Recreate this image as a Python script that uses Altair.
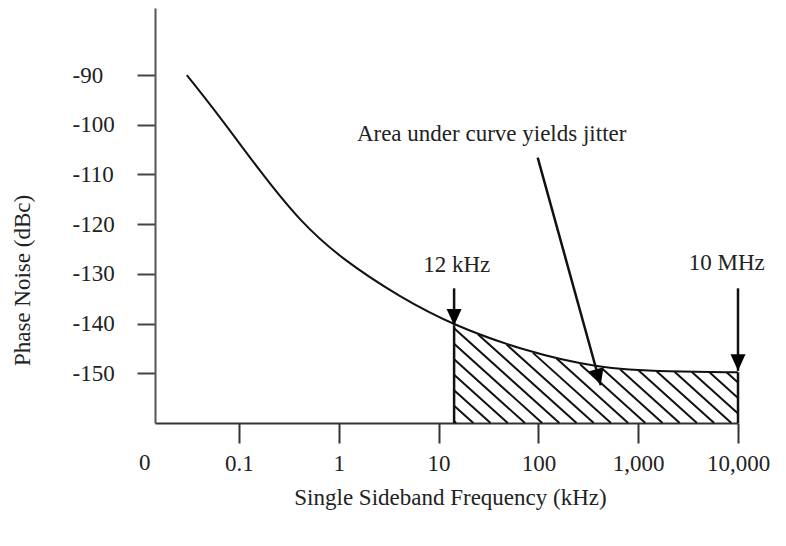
import math
import altair as alt
import pandas as pd

# ---------------- data ----------------
freq_khz = [0.03, 0.065, 0.16, 0.41, 1.07, 4.1, 14.3, 70, 387, 2080, 10000]
noise_dbc = [-90, -98.5, -109.2, -119.5, -127.0, -134.7, -140.4, -145.4, -149.0, -149.7, -149.8]

band_start_khz = 14.3      # "12 kHz" marker
band_end_khz = 10000       # "10 MHz" marker
band_floor_dbc = -160

x_ticks = [0.1, 1, 10, 100, 1000, 10000]
y_ticks = [-150, -140, -130, -120, -110, -100, -90]

note_text = ["Area under curve yields jitter", "12 kHz", "10 MHz", "0"]
note_x = [34, 15.2, 7710, 0.01135]
note_y = [-101.8, -128.3, -127.9, -168.1]

arrow_x_from = [14.3, 10000, 98.4]
arrow_y_from = [-132.9, -132.9, -106.6]
arrow_x_to = [14.3, 10000, 421]
arrow_y_to = [-140.4, -149.5, -152.4]

# ---------------- scales / layout ----------------
X_DOMAIN = [0.0144, 10000]
Y_DOMAIN = [-160, -76.5]
W, H = 583, 415
FONT = "Liberation Serif"
FS = 23
INK = "#111111"

LX0, LX1 = math.log10(X_DOMAIN[0]), math.log10(X_DOMAIN[1])


def xpix(f):
    return (math.log10(f) - LX0) / (LX1 - LX0) * W


def ypix(v):
    return (Y_DOMAIN[1] - v) / (Y_DOMAIN[1] - Y_DOMAIN[0]) * H


def xinv(p):
    return 10 ** (LX0 + p / W * (LX1 - LX0))


def yinv(p):
    return Y_DOMAIN[1] - p / H * (Y_DOMAIN[1] - Y_DOMAIN[0])


# ---------------- hatching derived from the curve ----------------
HATCH_SLOPE = 0.9
HATCH_STEP = 17.2
HATCH_PHASE = -41.8

curve_px = [(xpix(f), ypix(v)) for f, v in zip(freq_khz, noise_dbc)
            if band_start_khz <= f <= band_end_khz]


def top(px):
    for (x0, y0), (x1, y1) in zip(curve_px[:-1], curve_px[1:]):
        if x0 <= px <= x1:
            return y0 + (y1 - y0) * (px - x0) / (x1 - x0)
    return curve_px[-1][1] if px > curve_px[-1][0] else curve_px[0][1]


xL, xR, yB = xpix(band_start_khz), xpix(band_end_khz), ypix(band_floor_dbc)
dc = HATCH_SLOPE * HATCH_STEP
hx, hx2, hy, hy2 = [], [], [], []
for k in range(-80, 80):
    c = HATCH_PHASE + k * dc
    yl = HATCH_SLOPE * xL + c
    if yl > yB:
        continue
    g = lambda x: HATCH_SLOPE * x + c - top(x)
    if g(xR) < 0:
        continue
    if g(xL) >= 0:
        sx, sy = xL, yl
    else:
        a, b = xL, xR
        for _ in range(60):
            m = (a + b) / 2
            if g(m) < 0:
                a = m
            else:
                b = m
        sx = b
        sy = HATCH_SLOPE * sx + c
    xb = (yB - c) / HATCH_SLOPE
    if xb <= xR:
        ex, ey = xb, yB
    else:
        ex, ey = xR, HATCH_SLOPE * xR + c
    if ex - sx < 0.5:
        continue
    hx.append(xinv(sx)); hy.append(yinv(sy))
    hx2.append(xinv(ex)); hy2.append(yinv(ey))

hatch_df = pd.DataFrame({"x": hx, "x2": hx2, "y": hy, "y2": hy2})

curve_df = pd.DataFrame({"f": freq_khz, "db": noise_dbc})
edge_df = pd.DataFrame({
    "f": [band_start_khz, band_end_khz],
    "y": [band_floor_dbc, band_floor_dbc],
    "y2": [noise_dbc[freq_khz.index(band_start_khz)], noise_dbc[freq_khz.index(band_end_khz)]],
})
note_df = pd.DataFrame({"t": note_text, "f": note_x, "db": note_y})

angles = []
for xa, ya, xb_, yb_ in zip(arrow_x_from, arrow_y_from, arrow_x_to, arrow_y_to):
    dx = xpix(xb_) - xpix(xa)
    dy = ypix(yb_) - ypix(ya)
    angles.append((-math.degrees(math.atan2(dx, dy))) % 360)
arrow_df = pd.DataFrame({"x": arrow_x_from, "y": arrow_y_from,
                         "x2": arrow_x_to, "y2": arrow_y_to, "ang": angles})

xscale = alt.Scale(type="log", domain=X_DOMAIN, nice=False)
yscale = alt.Scale(domain=Y_DOMAIN, nice=False, zero=False)

x_axis = alt.Axis(
    values=x_ticks, format=",", title="Single Sideband Frequency (kHz)", grid=False,
    tickSize=20, tickWidth=2, tickColor="#333", domainColor="#333", domainWidth=2,
    labelFont=FONT, labelFontSize=FS, labelColor="#222", labelPadding=9,
    labelOverlap=False, labelFlush=False,
    titleFont=FONT, titleFontSize=FS, titleFontWeight="normal", titleColor="#222",
    titleX=295, titleY=74, titleBaseline="middle", titleAlign="center",
)
y_axis = alt.Axis(
    values=y_ticks, labelExpr="'-' + abs(datum.value)", title="Phase Noise (dBc)", grid=False,
    tickSize=18, tickWidth=2, tickColor="#444", domainColor="#555", domainWidth=2,
    labelFont=FONT, labelFontSize=FS, labelColor="#222", labelPadding=65,
    labelAlign="left", labelBaseline="middle", labelFlush=False, labelOverlap=False,
    titleFont=FONT, titleFontSize=FS, titleFontWeight="normal", titleColor="#222",
    titleX=-133, titleY=272, titleAngle=270, titleBaseline="middle", titleAlign="center",
)

curve = alt.Chart(curve_df).mark_line(color=INK, strokeWidth=2, interpolate="basis").encode(
    x=alt.X("f:Q", scale=xscale, axis=x_axis),
    y=alt.Y("db:Q", scale=yscale, axis=y_axis),
)

hatch = alt.Chart(hatch_df).mark_rule(color=INK, strokeWidth=2).encode(
    x=alt.X("x:Q", scale=xscale), x2="x2:Q",
    y=alt.Y("y:Q", scale=yscale), y2="y2:Q",
)

edges = alt.Chart(edge_df).mark_rule(color=INK, strokeWidth=2.5).encode(
    x=alt.X("f:Q", scale=xscale),
    y=alt.Y("y:Q", scale=yscale), y2="y2:Q",
)

shafts = alt.Chart(arrow_df).mark_rule(color=INK, strokeWidth=2.5).encode(
    x=alt.X("x:Q", scale=xscale), x2="x2:Q",
    y=alt.Y("y:Q", scale=yscale), y2="y2:Q",
)

heads = alt.Chart(arrow_df).mark_point(
    shape="M-1,-2.2L1,-2.2L0,0Z", size=225, filled=True, color="#000", opacity=1, strokeWidth=0
).encode(
    x=alt.X("x2:Q", scale=xscale),
    y=alt.Y("y2:Q", scale=yscale),
    angle=alt.Angle("ang:Q", scale=None),
)

notes = alt.Chart(note_df).mark_text(
    font=FONT, fontSize=FS, color="#222", align="center", baseline="middle"
).encode(
    x=alt.X("f:Q", scale=xscale),
    y=alt.Y("db:Q", scale=yscale),
    text="t:N",
)

chart = alt.layer(hatch, edges, curve, shafts, heads, notes).properties(
    width=W, height=H,
    padding={"left": 147, "top": 0, "right": 40, "bottom": 116},
    autosize=alt.AutoSizeParams(type="none"),
).configure_view(strokeWidth=0)

chart.save("out.html", embed_options={"renderer": "svg", "actions": False})
